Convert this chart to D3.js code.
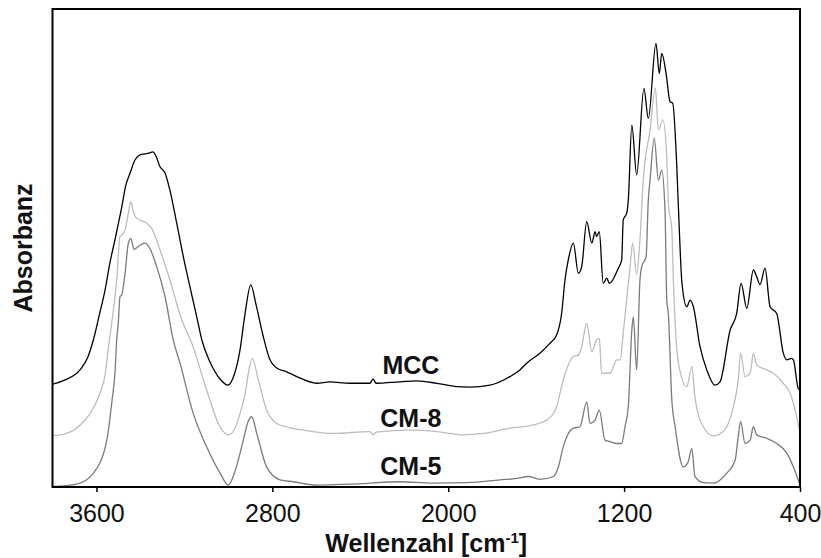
<!DOCTYPE html>
<html>
<head>
<meta charset="utf-8">
<script src="https://cdn.jsdelivr.net/npm/d3@7"></script>
<style>
  body { margin: 0; background: #fff; }
  text { font-family: "Liberation Sans", Arial, sans-serif; }
</style>
</head>
<body>
<div id="chart"></div>
<script>
// wavenumber [cm-1], absorbance (arbitrary units, stacked offsets as in figure)
const mcc = [
  [3800, 21.5], [3743, 22.4], [3675, 24.5], [3639, 27.2], [3614, 30.8], [3584, 36.6],
  [3561, 41.2], [3538, 47.1], [3516, 51.7], [3485, 58.6], [3466, 63.2], [3447, 65.7],
  [3425, 68.4], [3402, 69.5], [3379, 69.7], [3357, 69.9], [3344, 70.1], [3329, 69.2],
  [3311, 67.0], [3288, 65.7], [3266, 62.1], [3235, 55.2], [3205, 48.2], [3175, 41.9],
  [3144, 35.6], [3121, 30.8], [3084, 26.2], [3038, 22.6], [3002, 21.3], [2979, 22.8],
  [2947, 28.7], [2925, 36.0], [2898, 42.3], [2874, 38.1], [2843, 31.8], [2811, 26.6],
  [2780, 24.9], [2735, 24.1], [2689, 23.1], [2598, 21.7], [2538, 22.0], [2447, 21.7],
  [2356, 21.7], [2342, 22.6], [2328, 21.7], [2219, 22.0], [2143, 22.2], [2052, 21.7],
  [1961, 21.0], [1901, 20.9], [1810, 21.3], [1719, 23.1], [1674, 24.5], [1643, 25.9],
  [1583, 28.0], [1537, 30.1], [1507, 31.8], [1484, 36.4], [1469, 43.3], [1454, 47.5],
  [1431, 51.0], [1408, 44.7], [1393, 46.1], [1370, 55.5], [1347, 51.0], [1332, 53.4],
  [1325, 52.4], [1313, 53.4], [1295, 42.6], [1279, 43.7], [1267, 42.6], [1226, 45.8],
  [1211, 47.5], [1204, 55.9], [1188, 57.3], [1181, 60.0], [1165, 75.7], [1143, 65.3],
  [1110, 83.4], [1090, 77.1], [1055, 92.8], [1040, 86.5], [1029, 90.7], [1009, 86.5],
  [991, 80.6], [979, 80.3], [961, 67.7], [949, 53.8], [937, 42.7], [915, 37.7],
  [900, 39.1], [885, 37.7], [855, 29.4], [824, 24.5], [787, 21.3], [764, 22.0],
  [718, 32.8], [688, 36.3], [668, 42.6], [642, 37.4], [612, 45.4], [597, 44.0],
  [582, 42.3], [559, 45.8], [536, 37.7], [506, 36.3], [476, 28.0], [460, 26.6],
  [438, 26.9], [430, 26.6], [408, 20.6], [400, 20.3]
];

const cm8 = [
  [3800, 10.7], [3735, 11.2], [3675, 12.9], [3629, 15.4], [3584, 19.6], [3561, 23.4],
  [3546, 29.0], [3529, 34.9], [3508, 43.3], [3493, 52.4], [3485, 52.7], [3470, 53.8],
  [3455, 57.3], [3444, 59.7], [3432, 57.6], [3417, 56.2], [3372, 55.2], [3349, 54.1],
  [3311, 49.6], [3266, 43.3], [3220, 36.0], [3160, 29.3], [3099, 20.3], [3038, 12.6],
  [3000, 10.9], [2970, 12.3], [2947, 15.4], [2925, 19.2], [2909, 23.8], [2891, 26.9],
  [2864, 22.4], [2826, 16.1], [2780, 13.3], [2735, 12.6], [2659, 11.9], [2523, 11.2],
  [2356, 11.6], [2341, 10.9], [2328, 11.5], [2174, 11.9], [2052, 11.6], [1931, 10.9],
  [1840, 11.2], [1719, 12.3], [1613, 13.0], [1552, 14.0], [1507, 16.8], [1477, 22.4],
  [1431, 27.3], [1408, 27.6], [1393, 29.4], [1370, 34.2], [1347, 28.3], [1325, 30.8],
  [1313, 31.1], [1302, 23.8], [1264, 23.8], [1233, 26.6], [1218, 26.6], [1204, 32.2],
  [1173, 46.1], [1161, 51.0], [1143, 44.4], [1128, 51.7], [1113, 64.2], [1082, 74.7],
  [1058, 83.5], [1044, 74.7], [1024, 76.8], [1006, 69.1], [999, 59.4], [983, 53.8],
  [976, 43.3], [953, 25.9], [915, 21.0], [892, 25.2], [878, 18.9], [840, 12.6],
  [794, 10.7], [749, 11.6], [703, 16.8], [681, 22.4], [670, 28.0], [650, 23.1],
  [627, 23.8], [612, 28.0], [597, 25.5], [551, 24.5], [521, 23.8], [476, 21.7],
  [445, 19.6], [415, 14.7], [400, 11.2]
];

const cm5 = [
  [3800, 0.1], [3690, 0.6], [3614, 2.9], [3553, 9.8], [3529, 18.2], [3516, 23.8],
  [3508, 30.8], [3501, 34.2], [3493, 39.8], [3485, 40.2], [3470, 44.7], [3455, 51.0],
  [3444, 52.0], [3429, 49.7], [3410, 50.3], [3379, 51.0], [3357, 49.9], [3326, 46.1],
  [3288, 39.8], [3251, 30.8], [3220, 25.9], [3160, 15.4], [3099, 8.4], [3038, 2.9],
  [3000, 0.4], [2978, 2.2], [2932, 9.8], [2911, 13.6], [2894, 14.7], [2871, 11.2],
  [2826, 4.2], [2765, 1.5], [2705, 1.1], [2598, 0.4], [2447, 0.6], [2219, 1.1],
  [2068, 0.8], [1916, 0.9], [1764, 1.5], [1689, 1.8], [1636, 2.2], [1583, 1.6],
  [1522, 2.2], [1499, 4.2], [1477, 8.4], [1431, 12.3], [1401, 12.6], [1370, 17.8],
  [1355, 13.3], [1332, 14.0], [1313, 16.1], [1287, 9.8], [1264, 9.5], [1233, 9.1],
  [1211, 9.1], [1196, 12.6], [1181, 16.8], [1165, 32.8], [1158, 35.6], [1143, 24.5],
  [1128, 43.3], [1120, 46.1], [1100, 48.2], [1090, 60.0], [1082, 64.2], [1063, 73.0],
  [1044, 64.2], [1029, 66.3], [1014, 57.9], [1006, 39.1], [999, 36.3], [983, 18.2],
  [968, 12.6], [931, 4.2], [909, 5.2], [892, 8.1], [878, 2.2], [840, 0.9],
  [794, 0.8], [733, 2.9], [695, 5.6], [681, 10.5], [670, 13.7], [650, 9.1],
  [627, 9.8], [612, 12.6], [597, 10.9], [551, 10.2], [506, 9.1], [460, 7.1],
  [430, 4.2], [400, 0.4]
];

const seriesNames = ['MCC', 'CM-8', 'CM-5'];
const seriesColors = ['#000000', '#bdbdbd', '#7b7b7b'];
const labelPos = [[2170, 23.6], [2170, 12.6], [2170, 2.6]];
const xTicks = [3600, 2800, 2000, 1200, 400];

const width = 821, height = 558;
const margin = { top: 9, right: 21, bottom: 71, left: 52.5 };

const svg = d3.select('#chart').append('svg')
  .attr('width', width)
  .attr('height', height);

const x = d3.scaleLinear()
  .domain([3800, 400])
  .range([margin.left, width - margin.right]);

const y = d3.scaleLinear()
  .domain([0, 100])
  .range([height - margin.bottom, margin.top]);

svg.append('clipPath').attr('id', 'plot-clip')
  .append('rect')
  .attr('x', margin.left).attr('y', margin.top)
  .attr('width', width - margin.right - margin.left)
  .attr('height', height - margin.bottom - margin.top);

const line = d3.line()
  .x(d => x(d[0]))
  .y(d => y(d[1]))
  .curve(d3.curveMonotoneX);

const plot = svg.append('g').attr('clip-path', 'url(#plot-clip)');
[mcc, cm8, cm5].forEach((s, i) => {
  plot.append('path')
    .datum(s.slice().sort((a, b) => a[0] - b[0]))
    .attr('fill', 'none')
    .attr('stroke', seriesColors[i])
    .attr('stroke-width', 1.3)
    .attr('stroke-linejoin', 'round')
    .attr('d', line);
});

// series labels
svg.selectAll('.series-label')
  .data(seriesNames)
  .enter()
  .append('text')
  .attr('class', 'series-label')
  .attr('x', (d, i) => x(labelPos[i][0]))
  .attr('y', (d, i) => y(labelPos[i][1]))
  .attr('text-anchor', 'middle')
  .attr('font-size', 25)
  .attr('font-weight', 'bold')
  .attr('fill', '#111')
  .text(d => d);

// x axis
const xAxis = d3.axisBottom(x)
  .tickValues(xTicks)
  .tickFormat(d3.format('d'))
  .tickSize(5)
  .tickSizeOuter(0)
  .tickPadding(12);

const gx = svg.append('g')
  .attr('transform', `translate(0, ${height - margin.bottom})`)
  .call(xAxis);
gx.select('.domain').remove();
gx.selectAll('.tick line').attr('stroke', '#000').attr('stroke-width', 1.5);
gx.selectAll('.tick text')
  .attr('font-size', 25)
  .attr('fill', '#111')
  .style('font-family', '"Liberation Sans", Arial, sans-serif');

// frame
svg.append('rect')
  .attr('x', margin.left)
  .attr('y', margin.top)
  .attr('width', width - margin.right - margin.left)
  .attr('height', height - margin.bottom - margin.top)
  .attr('fill', 'none')
  .attr('stroke', '#000')
  .attr('stroke-width', 2);

// axis titles
const xTitle = svg.append('text')
  .attr('x', (margin.left + width - margin.right) / 2)
  .attr('y', 552)
  .attr('text-anchor', 'middle')
  .attr('font-size', 25)
  .attr('font-weight', 'bold')
  .attr('fill', '#111');
xTitle.append('tspan').text('Wellenzahl [cm');
xTitle.append('tspan').attr('font-size', 15).attr('dy', -9).text('-1');
xTitle.append('tspan').attr('dy', 9).text(']');

svg.append('text')
  .attr('transform', `translate(32, ${(margin.top + height - margin.bottom) / 2}) rotate(-90)`)
  .attr('text-anchor', 'middle')
  .attr('font-size', 25)
  .attr('font-weight', 'bold')
  .attr('fill', '#111')
  .text('Absorbanz');
</script>
</body>
</html>
